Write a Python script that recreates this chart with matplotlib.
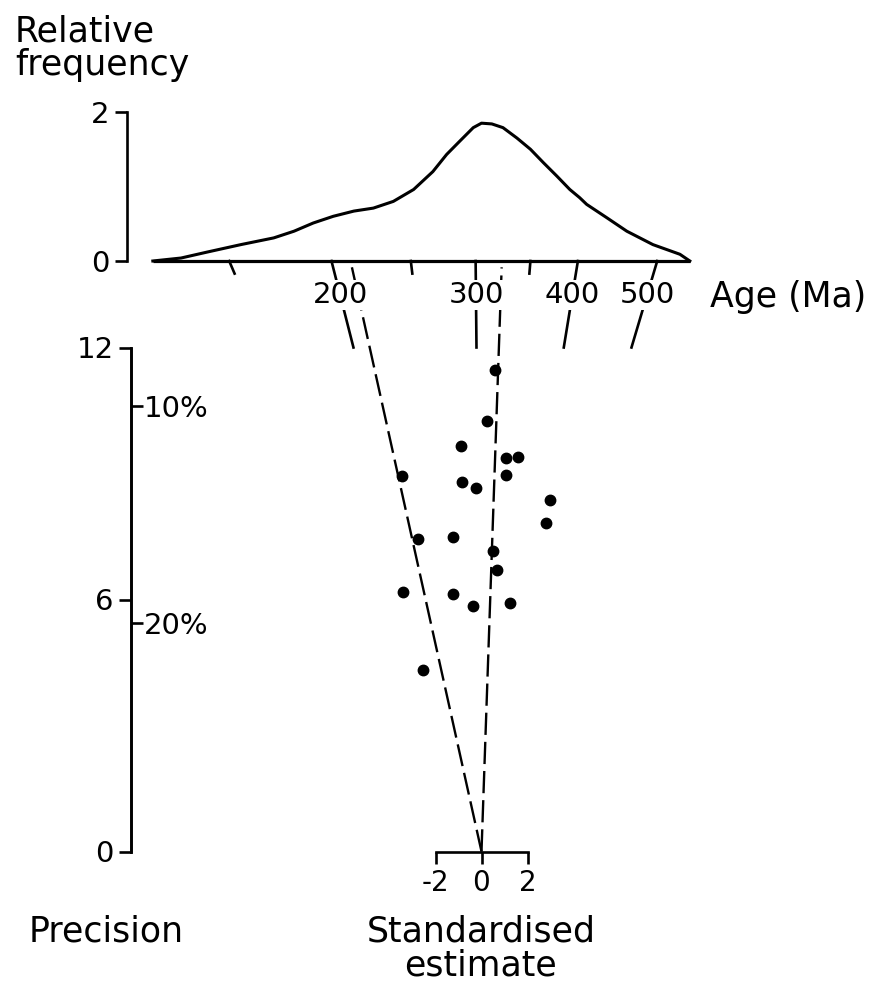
import numpy as np
import matplotlib
matplotlib.use('Agg')
import matplotlib.pyplot as plt

plt.rcParams['font.family'] = ['DejaVu Sans']
plt.rcParams['lines.scale_dashes'] = False

# ---------------- data ----------------
std_estimate = [0.59, 0.23, -0.90, 1.07, 1.60, -3.47, -0.86, 1.07, -0.24, 2.98,
                2.80, -2.75, -1.25, 0.49, 0.69, -3.43, -1.23, -0.38, 1.24, -2.56]
precision = [11.47, 10.26, 9.65, 9.36, 9.39, 8.94, 8.80, 8.96, 8.65, 8.37,
             7.81, 7.44, 7.50, 7.15, 6.70, 6.19, 6.13, 5.85, 5.92, 4.32]

density_age = [121, 131, 141, 155, 170, 180, 190, 201, 213, 225, 238, 252, 266, 276.5,
               287, 298, 305, 314, 324, 337, 350, 363, 377, 391, 402, 410, 434, 459,
               494, 533, 548]
density_freq = [0, 0.04, 0.12, 0.22, 0.31, 0.40, 0.51, 0.60, 0.67, 0.71, 0.80, 0.96,
                1.20, 1.43, 1.61, 1.79, 1.85, 1.84, 1.79, 1.65, 1.50, 1.32, 1.14, 0.96,
                0.85, 0.76, 0.58, 0.40, 0.22, 0.09, 0]

component_ages = [211, 323]
central_age = 305
age_major_ticks = [200, 300, 400, 500]
age_minor_ticks = [150, 250, 350]
age_axis_range = [121, 548]

precision_ticks = [0, 6, 12]
pct_tick_pos = [10.6, 5.45]
pct_tick_labels = ['10%', '20%']
std_ticks = [-2, 0, 2]
freq_ticks = [0, 2]

# ---------------- layout ----------------
W, H = 874, 986
OX, OY = 481.5, 851.5          # pixel of radial-plot origin
PXZ, PXP = 23.0, 42.0          # pixels per standardised unit / per precision unit
PX_LN = 355.5                  # pixels per unit ln(age) along the age axis
AGE_AX_PIX = 261               # pixel row of age axis
P_AX = (OY - AGE_AX_PIX) / PXP # precision level of age axis
LN_SCALE = PX_LN / PXZ         # standardised units per ln-age at the age axis
PRE_AX_X = (131 - OX) / PXZ    # x of precision axis (data)

fig = plt.figure(figsize=(W / 100, H / 100), dpi=100)
ax = fig.add_axes([0, 0, 1, 1])
ax.set_xlim(-OX / PXZ, (W - OX) / PXZ)
ax.set_ylim(-(H - OY) / PXP, OY / PXP)
ax.patch.set_visible(False)

def radial_z(age, p):
    return np.asarray(p) / P_AX * LN_SCALE * np.log(age / central_age)

LW = 1.9
TICK_FS = 21
# spines / axes
for s in ['top', 'right']:
    ax.spines[s].set_visible(False)
ax.spines['left'].set_position(('data', PRE_AX_X))
ax.spines['left'].set_bounds(0, 12)
ax.spines['bottom'].set_position(('data', 0))
ax.spines['bottom'].set_bounds(-2, 2)
for s in ['left', 'bottom']:
    ax.spines[s].set_linewidth(LW)
ax.set_yticks(precision_ticks)
ax.set_yticklabels([str(v) for v in precision_ticks])
ax.set_xticks(std_ticks)
ax.set_xticklabels([str(v) for v in std_ticks])
ax.tick_params(axis='y', direction='out', length=8.5, width=LW, labelsize=TICK_FS, pad=4)
ax.tick_params(axis='x', direction='out', length=8.5, width=LW, labelsize=20, pad=4)

ax2 = ax.twinx()
ax2.set_ylim(ax.get_ylim())
for s in ['top', 'left', 'bottom']:
    ax2.spines[s].set_visible(False)
ax2.spines['right'].set_position(('data', PRE_AX_X))
ax2.spines['right'].set_bounds(0, 12)
ax2.spines['right'].set_linewidth(LW)
ax2.set_yticks(pct_tick_pos)
ax2.set_yticklabels(pct_tick_labels)
ax2.tick_params(axis='y', direction='out', length=8.5, width=LW, labelsize=TICK_FS, pad=1)

# points
ax.plot(std_estimate, precision, 'o', ms=7.5, color='black', zorder=5)

# dashed component lines
for a in component_ages:
    p = np.array([0, P_AX - 0.15])
    ax.plot(radial_z(a, p), p, color='black', lw=1.7, dashes=(16, 5), zorder=3)

# radial age ticks
for a in age_major_ticks:
    p = np.array([12.0, P_AX])
    ax.plot(radial_z(a, p), p, color='black', lw=LW, zorder=2)
    pl = 13.25
    ax.text(radial_z(a, pl), pl, str(a), ha='center', va='center', fontsize=TICK_FS,
            zorder=6, bbox=dict(facecolor='white', edgecolor='none', pad=0.5))
for a in age_minor_ticks:
    p = np.array([P_AX - 0.3, P_AX])
    ax.plot(radial_z(a, p), p, color='black', lw=LW, zorder=2)

# top density axes
bottom = (H - AGE_AX_PIX) / H
ymax = 2.2
PX_F = 74.5
ax_top = fig.add_axes([0, bottom, 1, ymax * PX_F / H])
ax_top.patch.set_visible(False)
ax_top.set_xscale('log')
ax_top.set_xlim(central_age * np.exp(-OX / PX_LN), central_age * np.exp((W - OX) / PX_LN))
ax_top.set_ylim(0, ymax)
for s in ['top', 'right', 'bottom']:
    ax_top.spines[s].set_visible(False)
ax_top.spines['left'].set_position(('axes', 127 / W))
ax_top.spines['left'].set_bounds(0, 2)
ax_top.spines['left'].set_linewidth(LW)
ax_top.set_xticks([])
ax_top.minorticks_off()
ax_top.set_yticks(freq_ticks)
ax_top.set_yticklabels([str(v) for v in freq_ticks])
ax_top.tick_params(axis='y', direction='out', length=8.5, width=LW, labelsize=TICK_FS, pad=4)
ax_top.plot(age_axis_range, [0, 0], color='black', lw=2.3, clip_on=False,
            solid_capstyle='butt')
ax_top.plot(density_age, density_freq, color='black', lw=2.2, clip_on=False,
            solid_joinstyle='round')

# text labels
TITLE_FS = 25
fig.text(15 / W, 1 - 14 / H, 'Relative\nfrequency', ha='left', va='top', fontsize=TITLE_FS,
         linespacing=1.0)
fig.text(788 / W, 1 - 297 / H, 'Age (Ma)', ha='center', va='center', fontsize=TITLE_FS)
fig.text(106 / W, 1 - 932 / H, 'Precision', ha='center', va='center', fontsize=TITLE_FS)
fig.text(481 / W, 1 - 948 / H, 'Standardised\nestimate', ha='center', va='center',
         fontsize=TITLE_FS, linespacing=1.0, multialignment='center')

fig.savefig('out.png', dpi=100, facecolor='white')
